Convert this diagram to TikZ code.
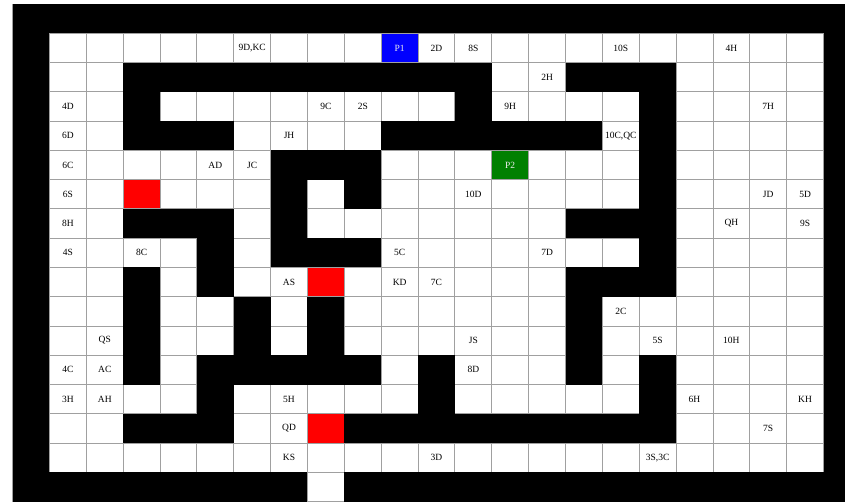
\documentclass[tikz,border=0pt]{standalone}
\usepackage{fontspec}
\setmainfont{Liberation Serif}
\usetikzlibrary{positioning}
\definecolor{Grid}{HTML}{A0A0A0}
\definecolor{Pone}{HTML}{0000FF}
\definecolor{Ptwo}{HTML}{008000}
\definecolor{Trap}{HTML}{FF0000}

\begin{document}
\begin{tikzpicture}[
    x=36.86pt, y=-29.27pt,
    font=\fontsize{9.5}{10}\selectfont,
    gridline/.style={draw=Grid, line width=0.9pt},
    wall/.style={fill=black},
    card/.style={inner sep=0pt, text=black},
    player/.style={inner sep=0pt, text=white!85!gray}
  ]
  \clip (-12.6pt,4pt) rectangle (832.4pt,-499pt);
  \fill[white] (-12.6pt,4pt) rectangle (832.4pt,-499pt);

  % coloured squares
  \fill[Pone] (10,1) rectangle (11,2);
  \fill[Ptwo] (13,5) rectangle (14,6);
  \fill[Trap] (3,6) rectangle (4,7);
  \fill[Trap] (8,9) rectangle (9,10);
  \fill[Trap] (8,14) rectangle (9,15);

  \foreach \c in {1,...,22}
    \draw[gridline] (\c,1) -- (\c,16);
  \foreach \r in {1,...,16}
    \draw[gridline] (1,\r) -- (22,\r);
  \draw[gridline] (8,16) rectangle (9,17);
  \draw[gridline, line width=0.6pt] (0,0) rectangle (23,17);

  % outer wall, open below column 8
  \fill[wall] (0,0) rectangle (23,1);
  \fill[wall] (0,0) rectangle (1,17);
  \fill[wall] (22,0) rectangle (23,17);
  \fill[wall] (0,16) rectangle (8,17);
  \fill[wall] (9,16) rectangle (23,17);

  % inner walls: row/first column/last column
  \foreach \r/\a/\b in {2/3/12, 2/15/17, 3/3/3, 3/12/12, 3/17/17,
      4/3/5, 4/10/15, 4/17/17, 5/7/9, 5/17/17, 6/7/7, 6/9/9, 6/17/17,
      7/3/5, 7/7/7, 7/15/17, 8/5/5, 8/7/9, 8/17/17, 9/3/3, 9/5/5, 9/15/17,
      10/3/3, 10/6/6, 10/8/8, 10/15/15, 11/3/3, 11/6/6, 11/8/8, 11/15/15,
      12/3/3, 12/5/9, 12/11/11, 12/15/15, 12/17/17, 13/5/5, 13/11/11,
      13/17/17, 14/3/5, 14/9/17}
    \fill[wall] (\a,\r) rectangle (\b+1,\r+1);

  \node[player] (p1) at (10.5,1.5) {P1};
  \node[player] (p2) at (13.5,5.5) {P2};

  \node[card] (c9DKC) at (6.5,1.5) {9D,KC};
  \node[card] (c2D) at (11.5,1.5) {2D};
  \node[card] (c8S) at (12.5,1.5) {8S};
  \node[card] (c10S) at (16.5,1.5) {10S};
  \node[card] (c4H) at (19.5,1.5) {4H};
  \node[card] (c2H) at (14.5,2.5) {2H};
  \node[card] (c4D) at (1.5,3.5) {4D};
  \node[card] (c9C) at (8.5,3.5) {9C};
  \node[card] (c2S) at (9.5,3.5) {2S};
  \node[card] (c9H) at (13.5,3.5) {9H};
  \node[card] (c7H) at (20.5,3.5) {7H};
  \node[card] (c6D) at (1.5,4.5) {6D};
  \node[card] (cJH) at (7.5,4.5) {JH};
  \node[card] (c10CQC) at (16.5,4.5) {10C,QC};
  \node[card] (c6C) at (1.5,5.5) {6C};
  \node[card] (cAD) at (5.5,5.5) {AD};
  \node[card] (cJC) at (6.5,5.5) {JC};
  \node[card] (c6S) at (1.5,6.5) {6S};
  \node[card] (c10D) at (12.5,6.5) {10D};
  \node[card] (cJD) at (20.5,6.5) {JD};
  \node[card] (c5D) at (21.5,6.5) {5D};
  \node[card] (c8H) at (1.5,7.5) {8H};
  \node[card] (cQH) at (19.5,7.5) {QH};
  \node[card] (c9S) at (21.5,7.5) {9S};
  \node[card] (c4S) at (1.5,8.5) {4S};
  \node[card] (c8C) at (3.5,8.5) {8C};
  \node[card] (c5C) at (10.5,8.5) {5C};
  \node[card] (c7D) at (14.5,8.5) {7D};
  \node[card] (cAS) at (7.5,9.5) {AS};
  \node[card] (cKD) at (10.5,9.5) {KD};
  \node[card] (c7C) at (11.5,9.5) {7C};
  \node[card] (c2C) at (16.5,10.5) {2C};
  \node[card] (cQS) at (2.5,11.5) {QS};
  \node[card] (cJS) at (12.5,11.5) {JS};
  \node[card] (c5S) at (17.5,11.5) {5S};
  \node[card] (c10H) at (19.5,11.5) {10H};
  \node[card] (c4C) at (1.5,12.5) {4C};
  \node[card] (cAC) at (2.5,12.5) {AC};
  \node[card] (c8D) at (12.5,12.5) {8D};
  \node[card] (c3H) at (1.5,13.5) {3H};
  \node[card] (cAH) at (2.5,13.5) {AH};
  \node[card] (c5H) at (7.5,13.5) {5H};
  \node[card] (c6H) at (18.5,13.5) {6H};
  \node[card] (cKH) at (21.5,13.5) {KH};
  \node[card] (cQD) at (7.5,14.5) {QD};
  \node[card] (c7S) at (20.5,14.5) {7S};
  \node[card] (cKS) at (7.5,15.5) {KS};
  \node[card] (c3D) at (11.5,15.5) {3D};
  \node[card] (c3S3C) at (17.5,15.5) {3S,3C};
\end{tikzpicture}
\end{document}
